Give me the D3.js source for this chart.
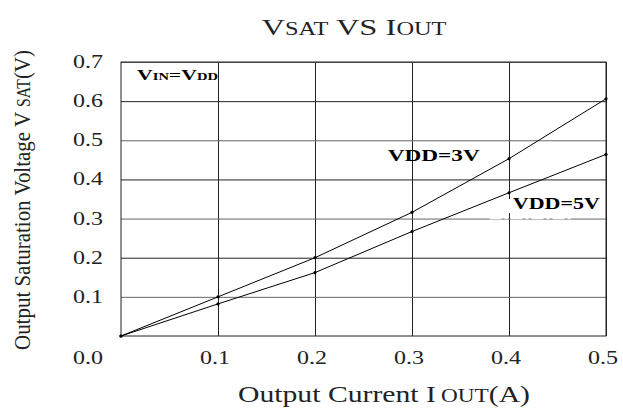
<!DOCTYPE html>
<html>
<head>
<meta charset="utf-8">
<script src="https://cdn.jsdelivr.net/npm/d3@7"></script>
<style>
  body { margin: 0; background: #fff; }
  svg { display: block; }
  svg text { font-family: "Liberation Serif", "DejaVu Serif", serif; }
</style>
</head>
<body>
<div id="chart"></div>
<script>
// Output saturation voltage vs output current
const currents = [0, 0.1, 0.2, 0.3, 0.4, 0.5];
const vdd3 = [0, 0.1, 0.2, 0.316, 0.453, 0.606];
const vdd5 = [0, 0.082, 0.162, 0.267, 0.366, 0.464];
const xTicks = [0.1, 0.2, 0.3, 0.4, 0.5];
const yTicks = [0.1, 0.2, 0.3, 0.4, 0.5, 0.6, 0.7];

const width = 623, height = 408;
const margin = { top: 62, right: 17, bottom: 72, left: 121 };
const innerWidth = width - margin.left - margin.right;
const innerHeight = height - margin.top - margin.bottom;

const svg = d3.select("#chart").append("svg")
  .attr("width", width)
  .attr("height", height);

const x = d3.scaleLinear().domain([0, 0.5]).range([0, innerWidth]);
const y = d3.scaleLinear().domain([0, 0.7]).range([innerHeight, 0]);

const plot = svg.append("g").attr("transform", `translate(${margin.left},${margin.top})`);

// grid
plot.append("g")
  .attr("transform", `translate(0,${innerHeight})`)
  .call(d3.axisBottom(x).tickValues(xTicks).tickSize(-innerHeight).tickFormat(""))
  .call(g => g.select(".domain").remove())
  .call(g => g.selectAll("text").remove())
  .call(g => g.selectAll("line").attr("stroke", "#222"));

plot.append("g")
  .call(d3.axisLeft(y).tickValues(yTicks).tickSize(-innerWidth).tickFormat(""))
  .call(g => g.select(".domain").remove())
  .call(g => g.selectAll("text").remove())
  .call(g => g.selectAll("line").attr("stroke", (d, i) => i % 2 === 0 ? "#666" : "#222"));

plot.append("rect")
  .attr("width", innerWidth)
  .attr("height", innerHeight)
  .attr("fill", "none")
  .attr("stroke", "#222");

// white dash-dot artifact on the 0.3 line near the label
plot.append("line")
  .attr("x1", x(0.38)).attr("x2", x(0.465))
  .attr("y1", y(0.3)).attr("y2", y(0.3))
  .attr("stroke", "#fff")
  .attr("stroke-width", 1.5)
  .attr("stroke-dasharray", "12,3,3,3");

// white patch behind the 5V label (breaks the 0.4 grid line)
plot.append("rect")
  .attr("x", x(0.399))
  .attr("y", y(0.35))
  .attr("width", x(0.097))
  .attr("height", 14)
  .attr("fill", "#fff");

// tick labels
const tickFont = 19;
svg.append("g").selectAll("text")
  .data(yTicks)
  .join("text")
  .attr("x", 88)
  .attr("y", d => margin.top + y(d) + 6)
  .attr("text-anchor", "middle")
  .attr("font-size", tickFont)
  .attr("textLength", 30)
  .attr("lengthAdjust", "spacingAndGlyphs")
  .attr("fill", "#222")
  .text(d => d.toFixed(1));

svg.append("g").selectAll("text")
  .data([0].concat(xTicks))
  .join("text")
  .attr("x", d => d === 0 ? 88 : margin.left + x(d) - 3)
  .attr("y", 364)
  .attr("text-anchor", "middle")
  .attr("font-size", tickFont)
  .attr("textLength", 30)
  .attr("lengthAdjust", "spacingAndGlyphs")
  .attr("fill", "#222")
  .text(d => d.toFixed(1));

// curves
const line = d3.line()
  .x((d, i) => x(currents[i]))
  .y(d => y(d));

[vdd3, vdd5].forEach(series => {
  plot.append("path")
    .datum(series)
    .attr("fill", "none")
    .attr("stroke", "#000")
    .attr("stroke-width", 1)
    .attr("d", line);
  plot.append("g").selectAll("circle")
    .data(series)
    .join("circle")
    .attr("cx", (d, i) => x(currents[i]))
    .attr("cy", d => y(d))
    .attr("r", 1.6)
    .attr("fill", "#000");
});

// annotations
const ann = plot.append("g")
  .attr("font-weight", "bold")
  .attr("fill", "#000");

const vin = ann.append("text")
  .attr("x", 16)
  .attr("y", 18)
  .attr("font-size", 15)
  .attr("textLength", 81)
  .attr("lengthAdjust", "spacingAndGlyphs");
vin.append("tspan").text("V");
vin.append("tspan").attr("font-size", 10).text("IN");
vin.append("tspan").text("=V");
vin.append("tspan").attr("font-size", 10).text("DD");

ann.append("text")
  .attr("x", x(0.275))
  .attr("y", y(0.46) + 5)
  .attr("font-size", 16)
  .attr("textLength", 92)
  .attr("lengthAdjust", "spacingAndGlyphs")
  .text("VDD=3V");

ann.append("text")
  .attr("x", x(0.404))
  .attr("y", y(0.337) + 5)
  .attr("font-size", 16)
  .attr("textLength", 87)
  .attr("lengthAdjust", "spacingAndGlyphs")
  .text("VDD=5V");

// title
const title = svg.append("text")
  .attr("x", 354)
  .attr("y", 35)
  .attr("text-anchor", "middle")
  .attr("font-size", 24)
  .attr("textLength", 185)
  .attr("lengthAdjust", "spacingAndGlyphs")
  .attr("fill", "#222");
title.append("tspan").text("V");
title.append("tspan").attr("font-size", 18).text("SAT");
title.append("tspan").text(" VS I");
title.append("tspan").attr("font-size", 18).text("OUT");

// x axis title
const xTitle = svg.append("text")
  .attr("x", 384)
  .attr("y", 402)
  .attr("text-anchor", "middle")
  .attr("font-size", 23)
  .attr("textLength", 292)
  .attr("lengthAdjust", "spacingAndGlyphs")
  .attr("fill", "#222");
xTitle.append("tspan").text("Output Current I");
xTitle.append("tspan").attr("font-size", 18).attr("dx", 4).text("OUT");
xTitle.append("tspan").text("(A)");

// y axis title
const yTitle = svg.append("text")
  .attr("transform", "translate(30,200) rotate(-90)")
  .attr("text-anchor", "middle")
  .attr("font-size", 24)
  .attr("textLength", 300)
  .attr("lengthAdjust", "spacingAndGlyphs")
  .attr("fill", "#222");
yTitle.append("tspan").text("Output Saturation Voltage V ");
yTitle.append("tspan").attr("font-size", 18).text("SAT");
yTitle.append("tspan").text("(V)");
</script>
</body>
</html>
